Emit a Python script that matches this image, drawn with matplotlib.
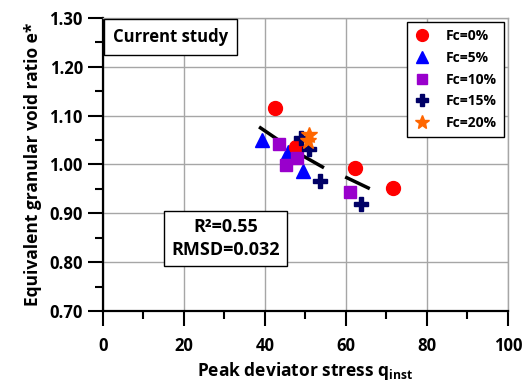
import numpy as np
import matplotlib
matplotlib.use("Agg")
import matplotlib.pyplot as plt

plt.rcParams['font.family'] = ['Open Sans', 'DejaVu Sans']
plt.rcParams['font.weight'] = 'bold'
plt.rcParams['mathtext.fontset'] = 'custom'
plt.rcParams['mathtext.rm'] = 'Open Sans:bold'
plt.rcParams['mathtext.bf'] = 'Open Sans:bold'

# data
fc0_q = [42.5, 47.6, 62.2, 71.5]
fc0_e = [1.116, 1.036, 0.993, 0.951]
fc5_q = [39.2, 45.8, 49.5]
fc5_e = [1.051, 1.026, 0.987]
fc10_q = [43.5, 45.2, 48.0, 61.1]
fc10_e = [1.043, 0.999, 1.014, 0.943]
fc15_q = [48.9, 50.9, 53.7, 63.6]
fc15_e = [1.055, 1.032, 0.967, 0.919]
fc20_q = [51.0, 50.6]
fc20_e = [1.060, 1.048]

# short black fit segments
fit_q = [[38.9, 43.7], [49.3, 54.2], [60.2, 65.5]]
fit_e = [[1.075, 1.048], [1.018, 0.995], [0.973, 0.952]]

fig = plt.figure(figsize=(5.28, 3.83), dpi=100)
ax = fig.add_axes([0.195, 0.188, 0.767, 0.765])

ax.set_xlim(0, 100)
ax.set_ylim(0.70, 1.30)
ax.set_xticks(np.arange(0, 101, 20))
ax.set_xticks(np.arange(10, 100, 20), minor=True)
ax.set_yticks(np.arange(0.70, 1.301, 0.10))
ax.set_yticks(np.arange(0.75, 1.30, 0.10), minor=True)
ax.set_yticklabels(['%.2f' % v for v in np.arange(0.70, 1.301, 0.10)])
ax.grid(True, which='major', color='#a6a6a6', lw=1.0, zorder=0)
ax.set_axisbelow(True)
ax.tick_params(which='major', direction='out', length=11, width=1.5, labelsize=12)
ax.tick_params(axis='x', which='major', pad=8)
ax.tick_params(which='minor', direction='out', length=6, width=1.5)
for lab in ax.get_xticklabels() + ax.get_yticklabels():
    lab.set_fontweight('bold')
for s in ['left', 'bottom']:
    ax.spines[s].set_linewidth(1.6)
for s in ['top', 'right']:
    ax.spines[s].set_color('#a6a6a6')
    ax.spines[s].set_linewidth(1.0)

for q, e in zip(fit_q, fit_e):
    ax.plot(q, e, color='black', lw=2.5, zorder=2)

ax.plot(fc0_q, fc0_e, 'o', color='#ff0000', ms=10, ls='none', zorder=4, label='Fc=0%')
ax.plot(fc5_q, fc5_e, '^', color='#0000ff', ms=10, ls='none', zorder=3, label='Fc=5%')
ax.plot(fc10_q, fc10_e, 's', color='#9900cc', ms=9, ls='none', zorder=5, label='Fc=10%')
ax.plot(fc15_q, fc15_e, 'P', color='#000066', ms=10, ls='none', zorder=6, label='Fc=15%')
ax.plot(fc20_q, fc20_e, '*', color='#ff6600', ms=12, ls='none', zorder=7, label='Fc=20%')

leg = ax.legend(loc='upper right', bbox_to_anchor=(0.997, 0.997), fontsize=10,
                frameon=True, fancybox=False, edgecolor='black', framealpha=1,
                handlelength=1.0, handletextpad=1.2, labelspacing=0.55,
                borderpad=0.55, borderaxespad=0.2, markerscale=0.85)
leg.get_frame().set_linewidth(1.0)
for t in leg.get_texts():
    t.set_fontweight('bold')

ax.text(0.025, 0.935, 'Current study', transform=ax.transAxes, fontsize=12,
        fontweight='bold', va='center', ha='left',
        bbox=dict(boxstyle='square,pad=0.55', fc='white', ec='black', lw=1.0))
ax.text(30.2, 0.849, 'R²=0.55\nRMSD=0.032', fontsize=13, fontweight='bold',
        ha='center', va='center', linespacing=1.35,
        bbox=dict(boxstyle='square,pad=0.4', fc='white', ec='black', lw=1.0))

ax.set_xlabel(r'Peak deviator stress q$_{\mathbf{inst}}$', fontsize=12.5, fontweight='bold', labelpad=3)
ax.set_ylabel('Equivalent granular void ratio e*', fontsize=12.5, fontweight='bold', labelpad=5)

fig.savefig('out.png', dpi=100)
